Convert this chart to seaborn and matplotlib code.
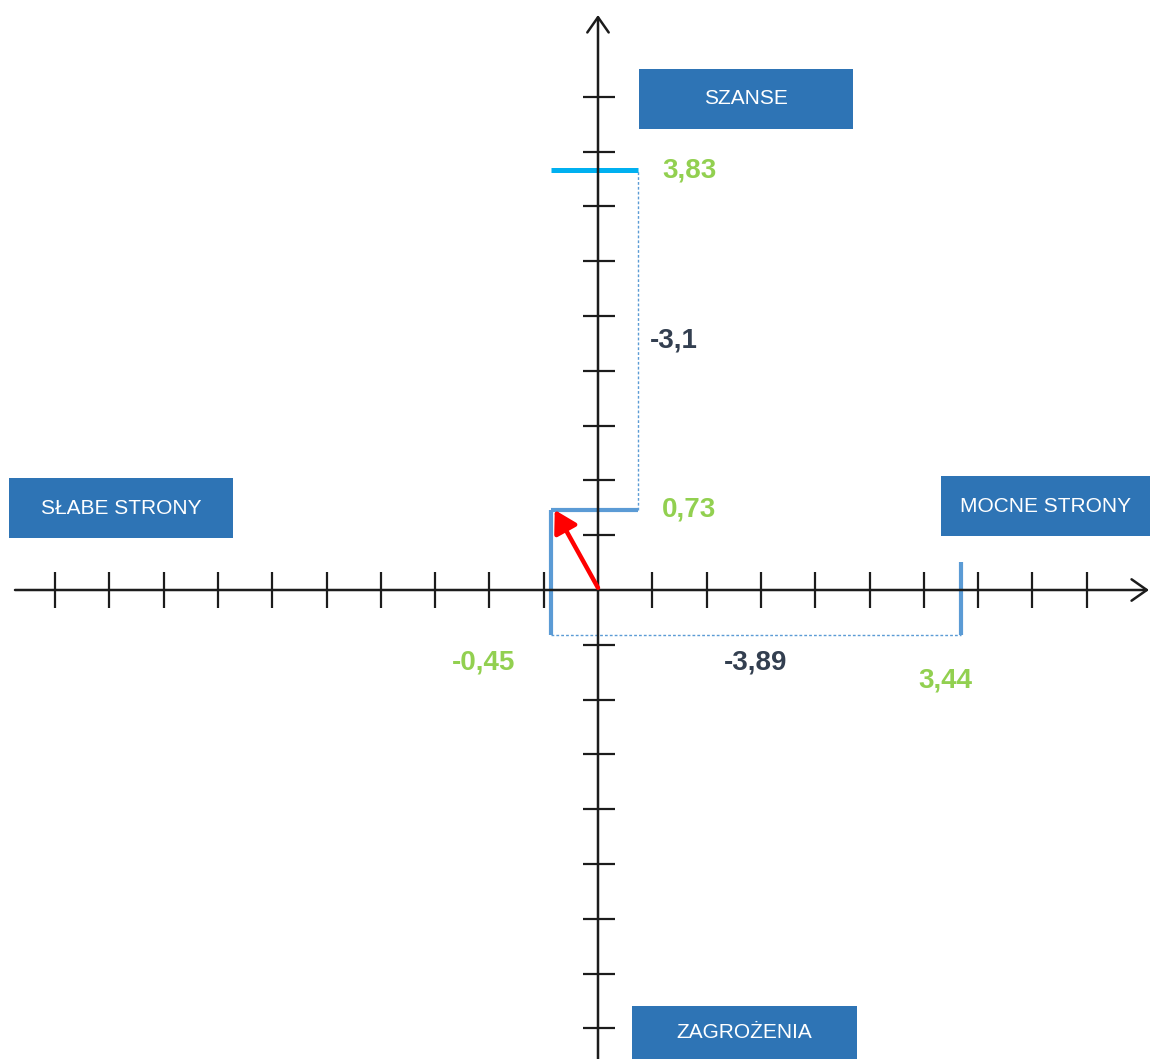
import numpy as np
import matplotlib.pyplot as plt
import seaborn as sns
from matplotlib.patches import Rectangle

# values from the chart
x_values = [-0.45, 3.44]   # słabe strony, mocne strony
y_values = [0.73, 3.83]    # szanse (niższa, wyższa)
box_labels = ['SZANSE', 'SŁABE STRONY', 'MOCNE STRONY', 'ZAGROŻENIA']

# tick marks along the axes (the drawing is schematic)
x_tick_idx = [i for i in range(-10, 10) if i != 0]
y_tick_idx = [i for i in range(-8, 10) if i != 0]

# layout: pixels of the source image -> data units
W, H = 1150, 1059
OX, OY = 598, 590
SX, SY = 105.5, 109.6


def to_data(px, py):
    return (px - OX) / SX, (OY - py) / SY


def fmt(v):
    return f'{v:g}'.replace('.', ',')


sns.set_style('white')
plt.rcParams['font.family'] = ['Liberation Sans', 'DejaVu Sans']

fig = plt.figure(figsize=(W / 100, H / 100), dpi=100)
ax = fig.add_axes([0, 0, 1, 1])
ax.set_xlim(to_data(0, 0)[0], to_data(W, 0)[0])
ax.set_ylim(to_data(0, H)[1], to_data(0, 0)[1])
ax.axis('off')

axis_col = '#1c1c1c'
green = '#92D050'
dark = '#333F50'
blue = '#5B9BD5'
cyan = '#00B0F0'
box_col = '#2E74B5'

# axes with arrows
head = '->,head_length=0.5,head_width=0.35'
ax.annotate('', xy=to_data(1149, OY), xytext=to_data(15, OY),
            arrowprops=dict(arrowstyle=head, lw=1.8, color=axis_col,
                            mutation_scale=22, shrinkA=0, shrinkB=0))
ax.annotate('', xy=to_data(OX, 15), xytext=to_data(OX, H),
            arrowprops=dict(arrowstyle=head, lw=1.8, color=axis_col,
                            mutation_scale=22, shrinkA=0, shrinkB=0))

xt = np.array(x_tick_idx) * 54.3 / SX
yt = np.array(y_tick_idx) * 54.8 / SY
ax.vlines(xt, -18 / SY, 18 / SY, color=axis_col, lw=1.6)
ax.hlines(yt, -15 / SX, 17 / SX, color=axis_col, lw=1.6)

# brackets
bx = to_data(638, 0)[0]
by = to_data(0, 635)[1]
top3 = to_data(0, 562)[1]
common = dict(ax=ax, sort=False, estimator=None, legend=False)
solid = dict(solid_capstyle='butt', **common)
dotted = dict(linestyle=(0, (2, 1.5)), linewidth=1.0, color=blue, **common)

sns.lineplot(x=[bx, bx], y=[y_values[0], y_values[1]], **dotted)
sns.lineplot(x=[x_values[0], x_values[1]], y=[by, by], **dotted)
sns.lineplot(x=[x_values[0], bx], y=[y_values[1]] * 2, color=cyan, linewidth=3.6, **solid)
sns.lineplot(x=[x_values[0], bx], y=[y_values[0]] * 2, color=blue, linewidth=3.0, **solid)
sns.lineplot(x=[x_values[0]] * 2, y=[y_values[0], by], color=blue, linewidth=3.0, **solid)
sns.lineplot(x=[x_values[1]] * 2, y=[top3, by], color=blue, linewidth=3.0, **solid)

# red arrow from origin to the resulting point
ax.annotate('', xy=(x_values[0] + 0.04, y_values[0]), xytext=(0, 0.02),
            arrowprops=dict(arrowstyle='-|>,head_length=0.6,head_width=0.35',
                            lw=3.2, color='#FF0000', mutation_scale=22,
                            shrinkA=0, shrinkB=0))

# value labels
lab = dict(fontsize=20, fontweight='bold')
ax.text(to_data(662, 0)[0], y_values[1], fmt(y_values[1]), color=green, va='center', **lab)
ax.text(to_data(662, 0)[0], y_values[0], fmt(y_values[0]), color=green, va='center', **lab)
ax.text(to_data(650, 0)[0], np.mean(y_values), fmt(round(y_values[0] - y_values[1], 2)),
        color=dark, va='center', **lab)
ax.text(*to_data(484, 663), fmt(x_values[0]), color=green, ha='center', va='center', **lab)
ax.text(*to_data(945, 680), fmt(x_values[1]), color=green, ha='center', va='center', **lab)
ax.text(np.mean(x_values), to_data(0, 663)[1], fmt(round(x_values[0] - x_values[1], 2)),
        color=dark, ha='center', va='center', **lab)

# quadrant boxes (pixel boxes: left, top, right, bottom)
boxes = [(639, 69, 853, 129), (9, 478, 233, 538), (941, 476, 1150, 536), (632, 1006, 857, 1062)]
for name, (l, t, r, b) in zip(box_labels, boxes):
    x0, y0 = to_data(l, b)
    x1, y1 = to_data(r, t)
    ax.add_patch(Rectangle((x0, y0), x1 - x0, y1 - y0, color=box_col, lw=0, zorder=3))
    cx, cy = to_data((l + r) / 2, (t + b) / 2 if b < H else 1033)
    ax.text(cx, cy, name, color='white', fontsize=15, ha='center', va='center', zorder=4)

fig.savefig('out.png', dpi=100)
